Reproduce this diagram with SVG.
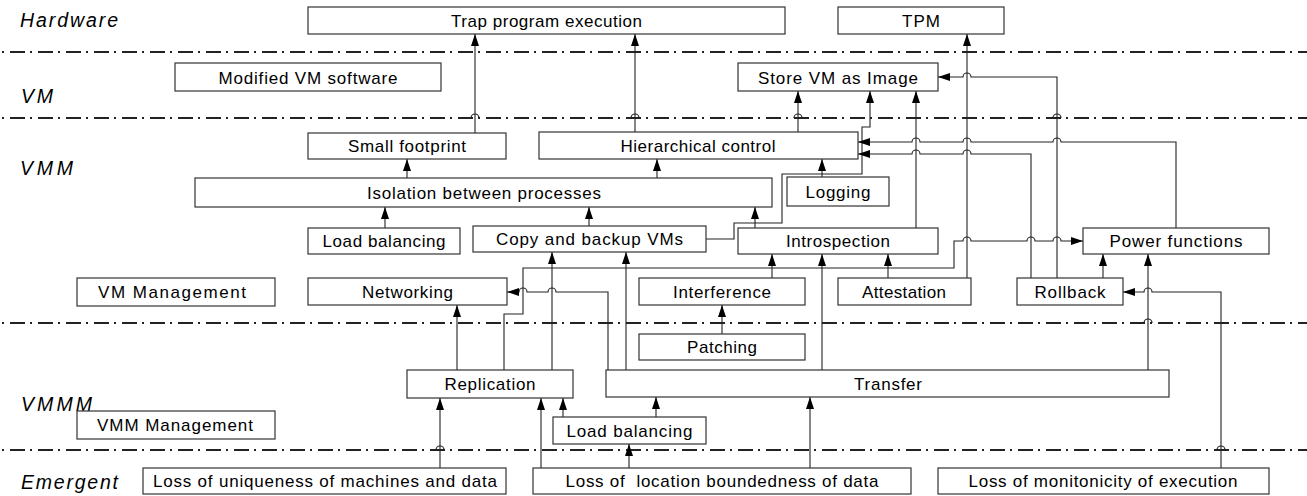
<svg xmlns="http://www.w3.org/2000/svg" width="1307" height="496" viewBox="0 0 1307 496">
<style>
.bg{fill:#fff}
.box rect{fill:#fff;stroke:#333;stroke-width:1.2}
.t{font-family:"Liberation Sans",Arial,sans-serif;font-size:17px;text-anchor:middle;fill:#000}
.lane{font-family:"Liberation Sans",Arial,sans-serif;font-size:19.5px;font-style:italic;fill:#000}
.sep{stroke:#222;stroke-width:1.8;stroke-dasharray:15 5 2 6;stroke-dashoffset:18;fill:none}
.hop{stroke:#222;stroke-width:1.2;fill:none}
.c{stroke:#222;stroke-width:1.1;fill:none}
.ca{stroke:#222;stroke-width:1.1;fill:none;marker-end:url(#arr)}
</style>
<defs>
<marker id="arr" markerUnits="userSpaceOnUse" viewBox="0 0 12 8" refX="12" refY="4" markerWidth="12" markerHeight="8" orient="auto">
<path d="M0,0 L12,4 L0,8 z" fill="#000"/>
</marker>
</defs>
<rect class="bg" x="0" y="0" width="1307" height="496"/>

<g id="lanes">
<line class="sep" x1="0" y1="52" x2="1307" y2="52"/>
<line class="sep" x1="0" y1="118" x2="1307" y2="118"/>
<line class="sep" x1="0" y1="323" x2="1307" y2="323"/>
<line class="sep" x1="0" y1="450" x2="1307" y2="450"/>
<path class="hop" d="M471,118 a4,4 0 0 1 8,0 M631,118 a4,4 0 0 1 8,0 M794,118 a4,4 0 0 1 8,0 M1053,118 a4,4 0 0 1 8,0 M1144,323 a4,4 0 0 1 8,0 M436,450 a4,4 0 0 1 8,0 M1217,450 a4,4 0 0 1 8,0"/>
<text class="lane" x="20" y="27" textLength="98" lengthAdjust="spacing">Hardware</text>
<text class="lane" x="21" y="103" textLength="32" lengthAdjust="spacing">VM</text>
<text class="lane" x="20" y="175" textLength="53" lengthAdjust="spacing">VMM</text>
<text class="lane" x="21" y="411" textLength="71" lengthAdjust="spacing">VMMM</text>
<text class="lane" x="21" y="489" textLength="97" lengthAdjust="spacing">Emergent</text>
</g>

<g id="connectors">
<path class="ca" d="M475,133 V34"/>
<path class="ca" d="M635,132 V34"/>
<path class="ca" d="M798,132 V91"/>
<path class="ca" d="M706,239 H734 V223 H782 V174 H862 V127 H870 V91"/>
<path class="ca" d="M916,228 V91"/>
<path class="ca" d="M967,278 V34"/>
<path class="ca" d="M1057,278 V77 H971 a4,4 0 0 0 -8,0 H938"/>
<path class="ca" d="M1176,228 V142 H1061 a4,4 0 0 0 -8,0 H971 a4,4 0 0 0 -8,0 H920 a4,4 0 0 0 -8,0 H858"/>
<path class="ca" d="M1031,278 V154 H971 a4,4 0 0 0 -8,0 H920 a4,4 0 0 0 -8,0 H858"/>
<path class="ca" d="M504,370 V314 H523 V268 H954 V241 H963 a4,4 0 0 1 8,0 H1027 a4,4 0 0 1 8,0 H1053 a4,4 0 0 1 8,0 H1083"/>
<path class="ca" d="M1103,278 V254"/>
<path class="ca" d="M1148,370 V254"/>
<path class="ca" d="M1221,468 V292 H1152 a4,4 0 0 0 -8,0 H1123"/>
<path class="ca" d="M608,370 V292 H556 a4,4 0 0 0 -8,0 H527 a4,4 0 0 0 -8,0 H507"/>
<path class="ca" d="M457,370 V305"/>
<path class="ca" d="M552,370 V252"/>
<path class="ca" d="M626,370 V252"/>
<path class="ca" d="M772,278 V254"/>
<path class="ca" d="M822,370 V254"/>
<path class="ca" d="M888,278 V254"/>
<path class="ca" d="M722,334 V305"/>
<path class="ca" d="M385,228 V207"/>
<path class="ca" d="M407,178 V159"/>
<path class="ca" d="M657,178 V159"/>
<path class="ca" d="M822,177 V159"/>
<path class="ca" d="M589,226 V207"/>
<path class="ca" d="M755,228 V207"/>
<path class="ca" d="M440,468 V398"/>
<path class="ca" d="M541,468 V398"/>
<path class="ca" d="M563,417 V398"/>
<path class="ca" d="M656,417 V397"/>
<path class="ca" d="M629,468 V444"/>
<path class="ca" d="M810,468 V397"/>
</g>

<g id="trap" class="box"><rect x="308" y="7" width="477" height="27"/><text class="t" x="546.5" y="26.5" textLength="191" lengthAdjust="spacing">Trap program execution</text></g>
<g id="tpm" class="box"><rect x="838" y="7" width="166" height="27"/><text class="t" x="921" y="26.5" textLength="38" lengthAdjust="spacing">TPM</text></g>
<g id="modified-vm-software" class="box"><rect x="175" y="63" width="266" height="28"/><text class="t" x="308" y="83.5" textLength="179" lengthAdjust="spacing">Modified VM software</text></g>
<g id="store-vm-as-image" class="box"><rect x="738" y="63" width="200" height="28"/><text class="t" x="838" y="83.5" textLength="160" lengthAdjust="spacing">Store VM as Image</text></g>
<g id="small-footprint" class="box"><rect x="308" y="133" width="198" height="26"/><text class="t" x="407" y="151.5" textLength="118" lengthAdjust="spacing">Small footprint</text></g>
<g id="hierarchical-control" class="box"><rect x="539" y="132" width="319" height="27"/><text class="t" x="698" y="151.5" textLength="155" lengthAdjust="spacing">Hierarchical control</text></g>
<g id="isolation" class="box"><rect x="195" y="178" width="577" height="29"/><text class="t" x="484" y="198.5" textLength="234" lengthAdjust="spacing">Isolation between processes</text></g>
<g id="logging" class="box"><rect x="787" y="177" width="102" height="29"/><text class="t" x="838" y="197.5" textLength="65" lengthAdjust="spacing">Logging</text></g>
<g id="load-balancing-vmm" class="box"><rect x="308" y="228" width="152" height="26"/><text class="t" x="384" y="246.5" textLength="123" lengthAdjust="spacing">Load balancing</text></g>
<g id="copy-backup" class="box"><rect x="473" y="226" width="233" height="26"/><text class="t" x="589.5" y="244.5" textLength="187" lengthAdjust="spacing">Copy and backup VMs</text></g>
<g id="introspection" class="box"><rect x="738" y="228" width="200" height="26"/><text class="t" x="838" y="246.5" textLength="104" lengthAdjust="spacing">Introspection</text></g>
<g id="power-functions" class="box"><rect x="1083" y="228" width="186" height="26"/><text class="t" x="1176" y="246.5" textLength="133" lengthAdjust="spacing">Power functions</text></g>
<g id="vm-management" class="box"><rect x="77" y="278" width="198" height="28"/><text class="t" x="172" y="297.5" textLength="148" lengthAdjust="spacing">VM Management</text></g>
<g id="networking" class="box"><rect x="308" y="278" width="199" height="27"/><text class="t" x="407.5" y="297.5" textLength="91" lengthAdjust="spacing">Networking</text></g>
<g id="interference" class="box"><rect x="639" y="278" width="166" height="27"/><text class="t" x="722" y="297.5" textLength="98" lengthAdjust="spacing">Interference</text></g>
<g id="attestation" class="box"><rect x="838" y="278" width="133" height="27"/><text class="t" x="904" y="297.5" textLength="84" lengthAdjust="spacing">Attestation</text></g>
<g id="rollback" class="box"><rect x="1017" y="278" width="106" height="27"/><text class="t" x="1070" y="297.5" textLength="71" lengthAdjust="spacing">Rollback</text></g>
<g id="patching" class="box"><rect x="639" y="334" width="166" height="26"/><text class="t" x="722" y="352.5" textLength="70" lengthAdjust="spacing">Patching</text></g>
<g id="replication" class="box"><rect x="407" y="370" width="166" height="28"/><text class="t" x="490" y="389.5" textLength="91" lengthAdjust="spacing">Replication</text></g>
<g id="transfer" class="box"><rect x="606" y="370" width="563" height="27"/><text class="t" x="888" y="389.5" textLength="68" lengthAdjust="spacing">Transfer</text></g>
<g id="vmm-management" class="box"><rect x="77" y="411" width="198" height="28"/><text class="t" x="175" y="430.5" textLength="156" lengthAdjust="spacing">VMM Management</text></g>
<g id="load-balancing-vmmm" class="box"><rect x="553" y="417" width="153" height="27"/><text class="t" x="629.5" y="436.5" textLength="126" lengthAdjust="spacing">Load balancing</text></g>
<g id="loss-uniqueness" class="box"><rect x="143" y="468" width="363" height="26"/><text class="t" x="325" y="486.5" textLength="344" lengthAdjust="spacing">Loss of uniqueness of machines and data</text></g>
<g id="loss-location" class="box"><rect x="533" y="468" width="378" height="26"/><text class="t" x="722" y="486.5" textLength="313" lengthAdjust="spacing" xml:space="preserve">Loss of  location boundedness of data</text></g>
<g id="loss-monotonicity" class="box"><rect x="938" y="468" width="331" height="26"/><text class="t" x="1103" y="486.5" textLength="269" lengthAdjust="spacing">Loss of monitonicity of execution</text></g>
</svg>
